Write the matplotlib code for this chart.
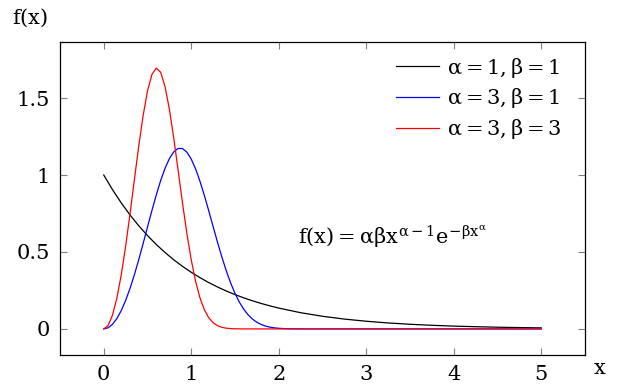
import matplotlib
matplotlib.use("Agg")
import matplotlib.pyplot as plt

plt.rcParams['font.family'] = ['DejaVu Serif']
plt.rcParams['mathtext.fontset'] = 'custom'
plt.rcParams['mathtext.rm'] = 'DejaVu Serif'
plt.rcParams['mathtext.it'] = 'DejaVu Serif'
plt.rcParams['mathtext.bf'] = 'DejaVu Serif:bold'

# alpha=1, beta=1
x_a1b1 = [0, 0.1, 0.2, 0.3, 0.4, 0.5, 0.6, 0.7, 0.8, 0.9, 1.0, 1.1, 1.2, 1.3, 1.4,
          1.5, 1.6, 1.7, 1.8, 1.9, 2.0, 2.25, 2.5, 2.75, 3.0, 3.25, 3.5, 3.75, 4.0,
          4.25, 4.5, 4.75, 5.0]
y_a1b1 = [1.0, 0.9048, 0.8187, 0.7408, 0.6703, 0.6065, 0.5488, 0.4966, 0.4493, 0.4066,
          0.3679, 0.3329, 0.3012, 0.2725, 0.2466, 0.2231, 0.2019, 0.1827, 0.1653, 0.1496,
          0.1353, 0.1054, 0.0821, 0.0639, 0.0498, 0.0388, 0.0302, 0.0235, 0.0183,
          0.0143, 0.0111, 0.0087, 0.0067]

# alpha=3, beta=1
x_a3b1 = [0, 0.05, 0.1, 0.15, 0.2, 0.25, 0.3, 0.35, 0.4, 0.45, 0.5, 0.55, 0.6, 0.65,
          0.7, 0.75, 0.8, 0.85, 0.9, 0.95, 1.0, 1.05, 1.1, 1.15, 1.2, 1.25, 1.3, 1.35,
          1.4, 1.45, 1.5, 1.55, 1.6, 1.65, 1.7, 1.75, 1.8, 1.85, 1.9, 1.95, 2.0, 2.1,
          2.2, 2.3, 2.5, 3.0, 3.5, 4.0, 4.5, 5.0]
y_a3b1 = [0, 0.0075, 0.0300, 0.0673, 0.1190, 0.1846, 0.2628, 0.3521, 0.4502, 0.5546,
          0.6619, 0.7684, 0.8702, 0.9632, 1.0432, 1.1067, 1.1507, 1.1729, 1.1722, 1.1487,
          1.1036, 1.0394, 0.9590, 0.8670, 0.7674, 0.6649, 0.5635, 0.4670, 0.3782, 0.2991,
          0.2310, 0.1740, 0.1278, 0.0915, 0.0637, 0.0432, 0.0285, 0.0183, 0.0114, 0.0069,
          0.0040, 0.0013, 0.0003, 0.0001, 0.0, 0.0, 0.0, 0.0, 0.0, 0.0]

# alpha=3, beta=3
x_a3b3 = [0, 0.05, 0.1, 0.15, 0.2, 0.25, 0.3, 0.35, 0.4, 0.45, 0.5, 0.55, 0.6, 0.65,
          0.7, 0.75, 0.8, 0.85, 0.9, 0.95, 1.0, 1.05, 1.1, 1.15, 1.2, 1.25, 1.3, 1.35,
          1.4, 1.45, 1.5, 1.6, 1.8, 2.0, 2.5, 3.0, 3.5, 4.0, 4.5, 5.0]
y_a3b3 = [0, 0.0225, 0.0897, 0.2005, 0.3515, 0.5367, 0.7470, 0.9694, 1.1885, 1.3867,
          1.5464, 1.6527, 1.6948, 1.6683, 1.5761, 1.4279, 1.2398, 1.0303, 0.8184, 0.6203,
          0.4481, 0.3079, 0.2009, 0.1242, 0.0727, 0.0401, 0.0209, 0.0102, 0.0047, 0.0020,
          0.0008, 0.0001, 0.0, 0.0, 0.0, 0.0, 0.0, 0.0, 0.0, 0.0]

labels = [r'$\alpha = 1, \beta = 1$', r'$\alpha = 3, \beta = 1$', r'$\alpha = 3, \beta = 3$']
colors = ['black', 'blue', 'red']
xticks = [0, 1, 2, 3, 4, 5]
yticks = [0, 0.5, 1, 1.5]
yticklabels = ['0', '0.5', '1', '1.5']

FS = 15

fig = plt.figure(figsize=(6.22, 3.90), dpi=100)
ax = fig.add_axes([60/622, 35/390, 525/622, 313/390])

for xs, ys, c, lab in zip([x_a1b1, x_a3b1, x_a3b3], [y_a1b1, y_a3b1, y_a3b3], colors, labels):
    ax.plot(xs, ys, color=c, lw=0.9, label=lab)

ax.set_xlim(-0.5, 5.5)
ax.set_ylim(-0.1695, 1.8645)
ax.set_xticks(xticks)
ax.set_xticklabels([str(t) for t in xticks])
ax.set_yticks(yticks)
ax.set_yticklabels(yticklabels)
ax.tick_params(direction='in', length=5, width=0.8, color='#808080',
               top=True, right=True, labelsize=FS, pad=7)
for s in ax.spines.values():
    s.set_linewidth(0.9)

leg = ax.legend(loc='upper right', frameon=False, fontsize=FS,
                handlelength=2.1, handletextpad=0.35, labelspacing=0.33,
                bbox_to_anchor=(0.975, 0.99), borderaxespad=0.1)

ax.text(238/525, 118/313, r'$f(x) = \alpha\beta x^{\alpha-1}e^{-\beta x^{\alpha}}$',
        fontsize=FS, transform=ax.transAxes, va='center', ha='left')
fig.text(30/622, 1 - 18/390, r'$f(x)$', fontsize=FS, ha='center', va='center')
fig.text(600/622, 1 - 368/390, r'$x$', fontsize=FS, ha='center', va='center')

fig.savefig('out.png', dpi=100)
